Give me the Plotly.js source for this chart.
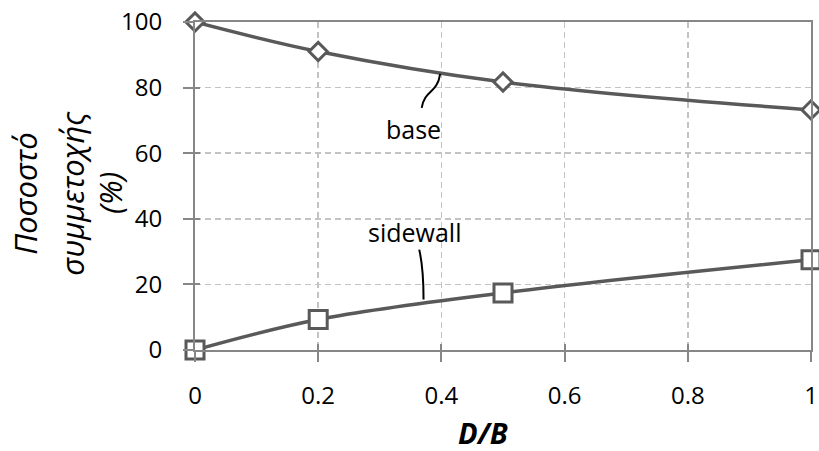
<!DOCTYPE html>
<html>
<head>
<meta charset="utf-8">
<script src="https://cdn.plot.ly/plotly-3.0.1.min.js"></script>
<style>
  html, body { margin: 0; padding: 0; background: #ffffff; }
  #chart { width: 819px; height: 451px; }
</style>
</head>
<body>
<div id="chart"></div>
<script>
// Share of load carried by base and sidewall versus embedment ratio D/B
const dbRatio = [0, 0.2, 0.5, 1];
const baseShare = [100, 91, 81.7, 73.2];
const sidewallShare = [0, 9.3, 17.4, 27.5];

const xTicks = [0, 0.2, 0.4, 0.6, 0.8, 1];
const xTickText = ['0', '0.2', '0.4', '0.6', '0.8', '1'];
const yTicks = [0, 20, 40, 60, 80, 100];
const yTickText = ['0', '20', '40', '60', '80', '100'];

const seriesNames = ['base', 'sidewall'];
const yTitleLines = ['Ποσοστό', 'συμμετοχής', '(%)'];
const xTitle = 'D/B';

const FONT = '"Open Sans", "Noto Sans", sans-serif';
const LINE = '#595959';
const AXIS = '#878787';
const GRID = '#c3c3c3';

const baseTrace = {
  x: dbRatio, y: baseShare, name: seriesNames[0],
  type: 'scatter', mode: 'lines+markers', cliponaxis: false,
  line: { color: LINE, width: 3.5, shape: 'spline', smoothing: 1 },
  marker: { symbol: 'diamond', size: 14, color: '#ffffff', line: { color: LINE, width: 3 } }
};
const sideTrace = {
  x: dbRatio, y: sidewallShare, name: seriesNames[1],
  type: 'scatter', mode: 'lines+markers', cliponaxis: false,
  line: { color: LINE, width: 3.5, shape: 'spline', smoothing: 1 },
  marker: { symbol: 'square', size: 18, color: '#ffffff', line: { color: LINE, width: 3 } }
};

const tickFont = { family: FONT, size: 24, color: '#000000' };

function titleLine(txt, xPos) {
  return { text: '<i>' + txt + '</i>', xref: 'paper', yref: 'paper',
    x: xPos, y: 0.479, xanchor: 'center', yanchor: 'middle',
    textangle: -90, showarrow: false,
    font: { family: FONT, size: 31, color: '#000000' } };
}

const layout = {
  width: 819, height: 451,
  margin: { l: 195, r: 8, t: 22, b: 101 },
  paper_bgcolor: '#ffffff', plot_bgcolor: '#ffffff',
  showlegend: false,
  font: { family: FONT, color: '#000000' },
  xaxis: {
    range: [0, 1], tickvals: xTicks, ticktext: xTickText,
    ticks: 'outside', ticklen: 10, tickwidth: 2, tickcolor: AXIS,
    showline: true, linecolor: AXIS, linewidth: 2, mirror: true,
    showgrid: true, gridcolor: GRID, gridwidth: 1.5, griddash: '6px,4px',
    zeroline: false, tickfont: tickFont, ticklabelstandoff: 13
  },
  yaxis: {
    range: [0, 100], tickvals: yTicks, ticktext: yTickText,
    ticks: 'outside', ticklen: 10, tickwidth: 2, tickcolor: AXIS,
    showline: true, linecolor: AXIS, linewidth: 2, mirror: true,
    showgrid: true, gridcolor: GRID, gridwidth: 1.5, griddash: '6px,4px',
    zeroline: false, tickfont: tickFont, ticklabelstandoff: 16
  },
  // inner halves of the crossing tick marks
  xaxis2: {
    overlaying: 'x', range: [0, 1], tickvals: xTicks, showticklabels: false,
    ticks: 'inside', ticklen: 6, tickwidth: 2, tickcolor: AXIS,
    showgrid: false, zeroline: false, showline: false
  },
  yaxis2: {
    overlaying: 'y', range: [0, 100], tickvals: yTicks, showticklabels: false,
    ticks: 'inside', ticklen: 5, tickwidth: 2, tickcolor: AXIS,
    showgrid: false, zeroline: false, showline: false
  },
  shapes: [
    // leader curve for the base label
    { type: 'path', xref: 'x', yref: 'y',
      path: 'M 0.368,73.8 C 0.373,79.5 0.393,78 0.398,84.2',
      line: { color: '#000000', width: 2 } },
    // leader curve for the sidewall label
    { type: 'path', xref: 'x', yref: 'y',
      path: 'M 0.364,30.6 Q 0.371,25 0.371,15.4',
      line: { color: '#000000', width: 2 } }
  ],
  annotations: [
    { text: seriesNames[0], xref: 'x', yref: 'y', x: 0.354, y: 67.5,
      xanchor: 'center', yanchor: 'middle', showarrow: false,
      font: { family: FONT, size: 25, color: '#000000' } },
    { text: seriesNames[1], xref: 'x', yref: 'y', x: 0.357, y: 36,
      xanchor: 'center', yanchor: 'middle', showarrow: false,
      font: { family: FONT, size: 25, color: '#000000' } },
    titleLine(yTitleLines[0], -0.276),
    titleLine(yTitleLines[1], -0.2),
    titleLine(yTitleLines[2], -0.138),
    { text: '<b><i>' + xTitle + '</i></b>', xref: 'paper', yref: 'paper',
      x: 0.4675, y: -0.25, xanchor: 'center', yanchor: 'middle', showarrow: false,
      font: { family: FONT, size: 29, color: '#000000' } }
  ]
};

const helperTrace = {
  x: [0], y: [0], xaxis: 'x2', yaxis: 'y2', mode: 'markers',
  marker: { opacity: 0 }, hoverinfo: 'skip', showlegend: false
};

Plotly.newPlot('chart', [helperTrace, baseTrace, sideTrace], layout, { displayModeBar: false, staticPlot: true });
</script>
</body>
</html>
